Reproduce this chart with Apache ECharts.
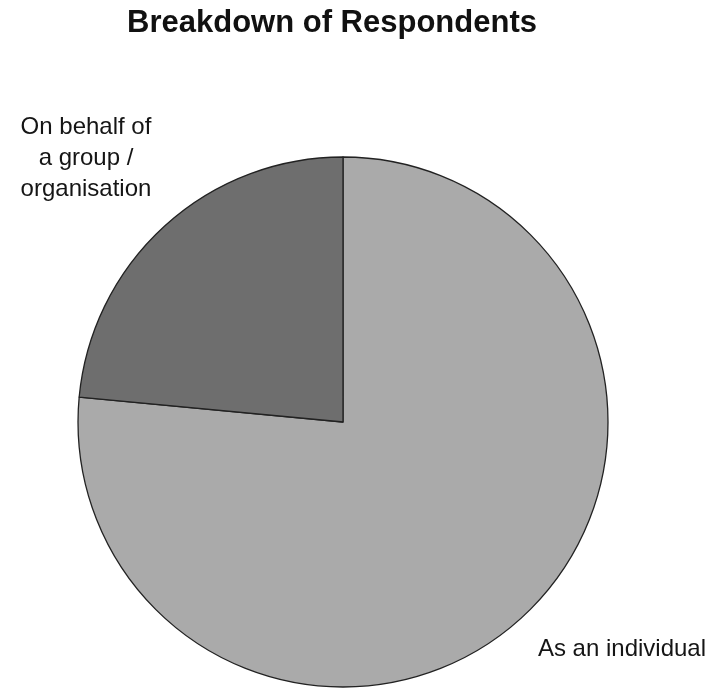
<!DOCTYPE html>
<html>
<head>
<meta charset="utf-8">
<script src="https://cdn.jsdelivr.net/npm/echarts@6/dist/echarts.min.js"></script>
<style>
  html, body { margin: 0; padding: 0; background: #ffffff; }
  #chart { width: 714px; height: 690px; }
</style>
</head>
<body>
<div id="chart"></div>
<script>
// Respondent categories and their shares (%)
const categories = ['As an individual', 'On behalf of\na group /\norganisation'];
const shares = [76.5, 23.5];
const sliceColors = ['#aaaaaa', '#6e6e6e'];
const chartTitle = 'Breakdown of Respondents';

const chart = echarts.init(document.getElementById('chart'));

// Label anchor points (centre of each text block)
const labelSpots = [
  { x: 622, y: 649 },
  { x: 86, y: 158 }
];

chart.setOption({
  animation: false,
  backgroundColor: '#ffffff',
  graphic: [{
    type: 'text',
    x: 332,
    y: 23,
    style: {
      text: chartTitle,
      fontFamily: 'Liberation Sans, Arial, sans-serif',
      fontWeight: 'bold',
      fontSize: 31,
      fill: '#111111',
      align: 'center',
      verticalAlign: 'middle'
    }
  }],
  series: [{
    type: 'pie',
    center: [343, 422],
    radius: 265,
    startAngle: 90,
    clockwise: true,
    silent: true,
    data: categories.map((name, i) => ({
      name: name,
      value: shares[i],
      itemStyle: { color: sliceColors[i] }
    })),
    itemStyle: { borderColor: '#222222', borderWidth: 1.3 },
    label: {
      show: true,
      position: 'outside',
      formatter: '{b}',
      fontFamily: 'Liberation Sans, Arial, sans-serif',
      fontSize: 24,
      lineHeight: 31,
      color: '#151515',
      align: 'center',
      overflow: 'none',
      width: 300
    },
    labelLine: { show: false },
    labelLayout: function (params) {
      const spot = labelSpots[params.dataIndex];
      return { x: spot.x, y: spot.y, align: 'center', verticalAlign: 'middle' };
    }
  }]
});
</script>
</body>
</html>
